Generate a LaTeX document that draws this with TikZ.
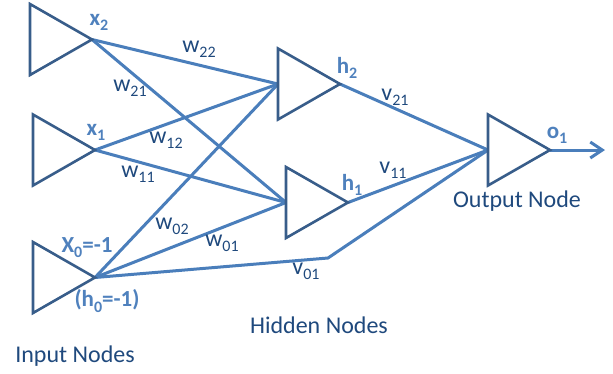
\documentclass[tikz,border=0pt]{standalone}
\usepackage{fontspec}
\setmainfont{Carlito}
\usetikzlibrary{arrows.meta}
\definecolor{lineblue}{HTML}{4A7EBB}
\definecolor{lblblue}{HTML}{4F81BD}
\definecolor{navy}{HTML}{1F497D}
\definecolor{triblue}{HTML}{385D8A}
\newcommand\lsub[1]{\raisebox{-0.22em}{\fontsize{16}{16}\selectfont #1}}
\begin{document}
\begin{tikzpicture}[x=1pt,y=-1pt,
  conn/.style={draw=lineblue,line width=3pt,line join=round},
  trishape/.style={draw=triblue,line width=2.6pt,line join=miter},
  wlabel/.style={inner sep=0pt,text=navy,font=\fontsize{24}{24}\selectfont},
  nlabel/.style={inner sep=0pt,text=lblblue,font=\fontsize{23}{23}\selectfont\bfseries},
  caption/.style={inner sep=0pt,text=navy,font=\fontsize{24}{24}\selectfont},
  neuron/.pic={\draw[trishape] (0,-35.5) -- (62,0) -- (0,35.5) -- cycle;
    \coordinate (-in) at (0,0); \coordinate (-out) at (62,0);}]
\path[use as bounding box] (0,0) rectangle (613,373);
% connectors
\coordinate (x2o) at (92,39.5);
\coordinate (x1o) at (95,150);
\coordinate (x0o) at (95,277.5);
\coordinate (h2i) at (278,84);
\coordinate (h1i) at (286,202.5);
\coordinate (outi) at (488,150);
\coordinate (h2o) at (340,84);
\coordinate (h1o) at (348,202.5);
\coordinate (outo) at (550,150);
\coordinate (bend) at (328,258);
\coordinate (oend) at (605,150);
\draw[conn] (x2o) -- (h2i);
\draw[conn] (x2o) -- (h1i);
\draw[conn] (x1o) -- (h2i);
\draw[conn] (x1o) -- (h1i);
\draw[conn] (x0o) -- (h2i);
\draw[conn] (x0o) -- (h1i);
\draw[conn] (x0o) -- (bend) -- (outi);
\draw[conn] (h2o) -- (outi);
\draw[conn] (h1o) -- (outi);
\draw[conn,-{Straight Barb[length=12pt,width=16pt]}] (outo) -- (oend);
% neurons
\pic (x2) at (30,39.5) {neuron};
\pic (x1) at (33,150) {neuron};
\pic (x0) at (33,277.5) {neuron};
\pic (h2) at (278,84) {neuron};
\pic (h1) at (286,202.5) {neuron};
\pic (out) at (488,150) {neuron};
% labels
\node[nlabel] (lx2) at (99,22) {x\lsub{2}};
\node[wlabel] (lw22) at (199,49) {w\lsub{22}};
\node[wlabel] (lw21) at (130,88) {w\lsub{21}};
\node[nlabel] (lx1) at (96,132) {x\lsub{1}};
\node[wlabel] (lw12) at (166,140) {w\lsub{12}};
\node[wlabel] (lw11) at (138,174) {w\lsub{11}};
\node[wlabel] (lw02) at (172,226) {w\lsub{02}};
\node[wlabel] (lw01) at (222,243) {w\lsub{01}};
\node[nlabel] (lx0) at (87,248) {X\lsub{0}=-1};
\node[nlabel] (lh0) at (107,301) {(h\lsub{0}=-1)};
\node[wlabel] (lv01) at (306,271) {v\lsub{01}};
\node[wlabel] (lv11) at (393,170) {v\lsub{11}};
\node[wlabel] (lv21) at (395,97) {v\lsub{21}};
\node[nlabel] (lh2) at (347,68) {h\lsub{2}};
\node[nlabel] (lh1) at (352,185) {h\lsub{1}};
\node[nlabel] (lo1) at (557,135) {o\lsub{1}};
\node[caption] (chid) at (319,325.5) {Hidden Nodes};
\node[caption] (cin) at (75,356.5) {Input Nodes};
\node[caption] (cout) at (517,201) {Output Node};
\end{tikzpicture}
\end{document}
